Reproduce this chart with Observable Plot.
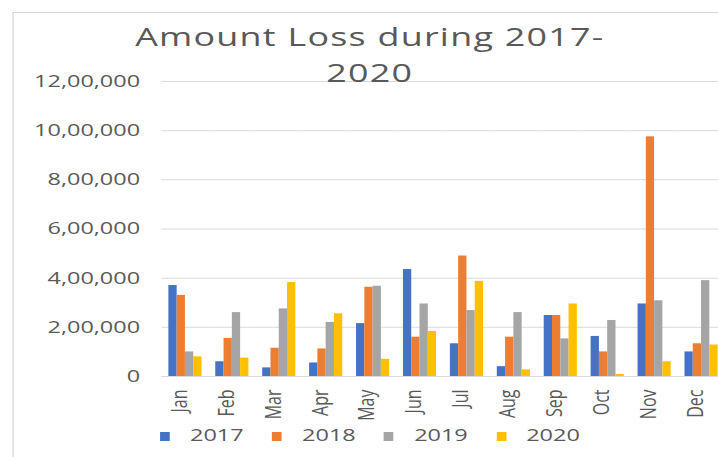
<!DOCTYPE html>
<html>
<head>
<meta charset="utf-8">
<script src="https://cdn.jsdelivr.net/npm/d3@7"></script>
<script src="https://cdn.jsdelivr.net/npm/@observablehq/plot@0.6"></script>
<style>
html, body { margin: 0; padding: 0; overflow: hidden; background: #fff; width: 718px; height: 457px; }
#stage { position: absolute; left: 0; top: 0; width: 526px; height: 457px; transform: scaleX(1.38); transform-origin: 0 0; font-family: "Open Sans", sans-serif; color: #595959; }
#border { position: absolute; left: 9px; top: 12px; width: 600px; height: 520px; border: 1px solid #d9d9d9; box-sizing: border-box; }
#chart { position: absolute; left: 0; top: 0; }
.tl { position: absolute; left: 0; width: 536px; text-align: center; font-size: 26px; line-height: 35.4px; height: 35.4px; color: #595959; white-space: nowrap; letter-spacing: 0.9px; }
.sw { position: absolute; width: 7px; height: 9px; top: 432px; }
.lt { position: absolute; top: 425.4px; font-size: 17px; line-height: 20px; color: #595959; }
</style>
</head>
<body>
<div id="stage">
  <div id="border"></div>
  <div id="chart"></div>
  <div class="tl" style="top:19.4px">Amount Loss during 2017-</div>
  <div class="tl" style="top:54.9px">2020</div>
  <div id="legend"></div>
</div>
<script>
const months = ["Jan","Feb","Mar","Apr","May","Jun","Jul","Aug","Sep","Oct","Nov","Dec"];
const years = ["2017","2018","2019","2020"];
const colors = ["#4472C4","#ED7D31","#A5A5A5","#FFC000"];
const s2017 = [370000, 60000, 35000, 55000, 215000, 435000, 133000, 40000, 248000, 163000, 295000, 100000];
const s2018 = [330000, 155000, 115000, 112000, 363000, 160000, 490000, 160000, 248000, 100000, 975000, 133000];
const s2019 = [100000, 260000, 275000, 220000, 367000, 295000, 268000, 260000, 153000, 228000, 308000, 390000];
const s2020 = [80000, 75000, 382000, 255000, 70000, 183000, 387000, 27000, 295000, 8000, 60000, 128000];
const yTicks = [0, 200000, 400000, 600000, 800000, 1000000, 1200000];
const yTickLabels = ["0","2,00,000","4,00,000","6,00,000","8,00,000","10,00,000","12,00,000"];

const series = [s2017, s2018, s2019, s2020];
const data = [];
months.forEach((m, i) => years.forEach((y, j) => data.push({month: m, year: y, value: series[j][i]})));

const chart = Plot.plot({
  width: 526,
  height: 457,
  marginLeft: 116,
  marginRight: 0,
  marginTop: 81,
  marginBottom: 81,
  style: {fontFamily: "Open Sans, sans-serif", fontSize: "17px", color: "#595959", background: "transparent"},
  fx: {domain: months, padding: 0, axis: "bottom", label: null, tickRotate: -90, tickSize: 0, tickPadding: 13},
  x: {domain: years, paddingInner: 0.08, paddingOuter: 0.8, axis: null},
  y: {domain: [0, 1200000], ticks: yTicks, tickFormat: d => yTickLabels[yTicks.indexOf(d)], tickSize: 0, tickPadding: 16, label: null, line: false},
  color: {domain: years, range: colors},
  marks: [
    Plot.ruleY(yTicks, {stroke: "#d9d9d9", strokeWidth: 1}),
    Plot.barY(data, {fx: "month", x: "year", y: "value", fill: "year"})
  ]
});
document.getElementById("chart").appendChild(chart);
d3.select(chart).selectAll('g[aria-label^="fx-axis"]').each(function() {
  const g = d3.select(this);
  g.style("font-size", "16px");
  const t = g.attr("transform") || "";
  g.attr("transform", "translate(-4.3,0) " + t);
});

const legend = document.getElementById("legend");
years.forEach((y, i) => {
  const left = 116 + i * 81.2;
  const sw = document.createElement("div");
  sw.className = "sw";
  sw.style.left = left + "px";
  sw.style.background = colors[i];
  legend.appendChild(sw);
  const t = document.createElement("div");
  t.className = "lt";
  t.style.left = (left + 21.7) + "px";
  t.textContent = y;
  legend.appendChild(t);
});
</script>
</body>
</html>
